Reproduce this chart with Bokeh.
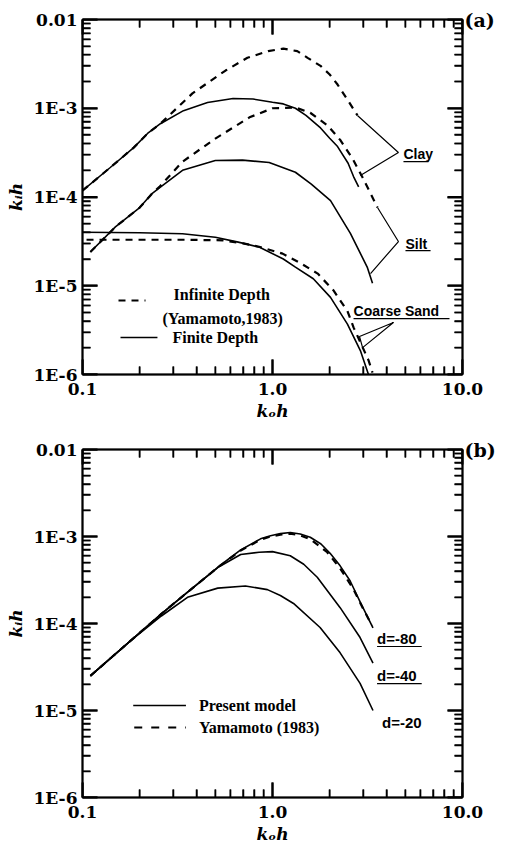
from bokeh.plotting import figure
from bokeh.models import LogAxis, FixedTicker, CustomJSTickFormatter, Label, Range1d
from bokeh.layouts import column
from bokeh.embed import file_html
from bokeh.resources import INLINE

# ---------------- ticks / labels ----------------
x_ticks = [0.1, 1.0, 10.0]
x_tick_labels = ["0.1", "1.0", "10.0"]
y_ticks = [1e-6, 1e-5, 1e-4, 1e-3, 1e-2]
y_tick_labels = ["1E-6", "1E-5", "1E-4", "1E-3", "0.01"]
x_minor = [m * 10.0 ** e for e in (-1, 0) for m in range(2, 10)]
y_minor = [m * 10.0 ** e for e in (-6, -5, -4, -3) for m in range(2, 10)]
x_label = "kₒh"
y_label = "kᵢh"

# ---------------- panel (a) data ----------------
clay_fin_k = [0.1, 0.14, 0.186, 0.22, 0.257, 0.34, 0.455, 0.62, 0.79, 1.0, 1.14, 1.32, 1.5, 1.79, 2.0, 2.2, 2.5, 2.67, 2.84]
clay_fin_v = [1.18e-4, 2.15e-4, 3.6e-4, 5.2e-4, 6.7e-4, 9.4e-4, 1.16e-3, 1.29e-3, 1.27e-3, 1.17e-3, 1.12e-3, 1.0e-3, 8.3e-4, 6.0e-4, 4.6e-4, 3.7e-4, 2.4e-4, 1.7e-4, 1.3e-4]

clay_inf_k = [0.1, 0.14, 0.186, 0.22, 0.257, 0.379, 0.566, 0.738, 0.95, 1.14, 1.35, 1.53, 1.79, 2.0, 2.2, 2.51, 2.8]
clay_inf_v = [1.18e-4, 2.15e-4, 3.6e-4, 5.2e-4, 6.7e-4, 1.47e-3, 2.66e-3, 3.7e-3, 4.4e-3, 4.7e-3, 4.4e-3, 3.7e-3, 3.0e-3, 2.4e-3, 1.85e-3, 1.2e-3, 8.3e-4]

silt_fin_k = [0.11, 0.149, 0.2, 0.233, 0.254, 0.336, 0.5, 0.695, 0.96, 1.32, 1.6, 2.02, 2.57, 3.16, 3.36]
silt_fin_v = [2.4e-5, 4.6e-5, 7.6e-5, 1.1e-4, 1.27e-4, 2.0e-4, 2.58e-4, 2.6e-4, 2.45e-4, 1.9e-4, 1.4e-4, 9.1e-5, 3.9e-5, 1.6e-5, 1.07e-5]

silt_inf_k = [0.11, 0.149, 0.2, 0.233, 0.254, 0.336, 0.5, 0.757, 1.0, 1.32, 1.58, 1.95, 2.28, 2.64, 2.98, 3.28, 3.57]
silt_inf_v = [2.4e-5, 4.6e-5, 7.6e-5, 1.1e-4, 1.3e-4, 2.5e-4, 4.55e-4, 7.9e-4, 1.0e-3, 1.02e-3, 8.9e-4, 6.4e-4, 4.35e-4, 2.7e-4, 1.66e-4, 1.1e-4, 7.6e-5]

sand_fin_k = [0.1, 0.2, 0.336, 0.5, 0.66, 0.855, 1.14, 1.32, 1.64, 2.02, 2.48, 2.9, 3.2]
sand_fin_v = [4.0e-5, 3.95e-5, 3.85e-5, 3.52e-5, 3.1e-5, 2.72e-5, 2.0e-5, 1.62e-5, 1.2e-5, 7.4e-6, 3.7e-6, 1.86e-6, 1.0e-6]

sand_inf_k = [0.105, 0.2, 0.336, 0.55, 0.7, 0.85, 1.13, 1.4, 1.73, 2.09, 2.48, 2.67, 3.2, 3.36]
sand_inf_v = [3.3e-5, 3.3e-5, 3.3e-5, 3.25e-5, 3.0e-5, 2.75e-5, 2.3e-5, 1.8e-5, 1.37e-5, 8.9e-6, 5.2e-6, 3.4e-6, 1.45e-6, 1.05e-6]

# ---------------- panel (b) data ----------------
d80_k = [0.11, 0.18, 0.26, 0.36, 0.515, 0.68, 0.865, 0.977, 1.1, 1.24, 1.4, 1.58, 1.8, 2.01, 2.27, 2.56, 2.9, 3.38]
d80_v = [2.5e-5, 6.4e-5, 1.29e-4, 2.32e-4, 4.43e-4, 7.0e-4, 9.4e-4, 1.02e-3, 1.08e-3, 1.11e-3, 1.07e-3, 9.8e-4, 8.2e-4, 6.4e-4, 4.6e-4, 3.1e-4, 1.75e-4, 8.9e-5]

d40_k = [0.11, 0.18, 0.26, 0.36, 0.515, 0.68, 0.85, 1.0, 1.24, 1.46, 1.72, 2.27, 2.89, 3.38]
d40_v = [2.5e-5, 6.4e-5, 1.29e-4, 2.32e-4, 4.4e-4, 6.2e-4, 6.6e-4, 6.7e-4, 6.0e-4, 4.8e-4, 3.4e-4, 1.52e-4, 6.9e-5, 3.5e-5]

d20_k = [0.11, 0.18, 0.26, 0.357, 0.515, 0.72, 0.94, 1.1, 1.29, 1.78, 2.27, 2.89, 3.38]
d20_v = [2.5e-5, 6.4e-5, 1.22e-4, 2.0e-4, 2.55e-4, 2.7e-4, 2.45e-4, 2.1e-4, 1.7e-4, 9.0e-5, 4.6e-5, 2.05e-5, 1.0e-5]

yama_k = [0.11, 0.18, 0.26, 0.36, 0.515, 0.68, 0.865, 0.976, 1.1, 1.24, 1.4, 1.58, 1.94, 2.27, 2.66, 2.99, 3.34]
yama_v = [2.5e-5, 6.4e-5, 1.29e-4, 2.32e-4, 4.4e-4, 6.9e-4, 9.2e-4, 1.0e-3, 1.05e-3, 1.08e-3, 1.03e-3, 9.3e-4, 6.6e-4, 4.3e-4, 2.5e-4, 1.5e-4, 9.5e-5]

# ---------------- texts ----------------
tag_a = "(a)"
tag_b = "(b)"
clay_text, silt_text, sand_text = "Clay", "Silt", "Coarse Sand"
leg_a = ["Infinite Depth", "(Yamamoto,1983)", "Finite Depth"]
leg_b = ["Present model", "Yamamoto (1983)"]
d_texts = ["d=-80", "d=-40", "d=-20"]

LABEL_JS = """
const lt = Math.log10(tick);
for (let i = 0; i < tv.length; i++) {
  if (Math.abs(lt - Math.log10(tv[i])) < 1e-6) { return tl[i]; }
}
return "";
"""
TAG_JS = "return (Math.abs(Math.log10(tick) - Math.log10(top)) < 1e-6) ? tag : '';"

SOLID_W = 1.6
DASH_W = 2.2
DASH = "7 6"
MAJOR_LEN = 15
MINOR_LEN = 8


def style_axis(ax, ticks, minor, labels=None):
    ax.ticker = FixedTicker(ticks=ticks, minor_ticks=minor)
    if labels is not None:
        ax.formatter = CustomJSTickFormatter(args=dict(tv=ticks, tl=labels), code=LABEL_JS)
        ax.major_label_text_font = "DejaVu Serif"
        ax.major_label_text_font_style = "bold"
        ax.major_label_text_font_size = "17px"
        ax.major_label_text_color = "black"
    else:
        ax.formatter = CustomJSTickFormatter(code="return '';")
        ax.major_label_text_font_size = "0px"
        ax.major_label_standoff = 0
    ax.major_tick_in = MAJOR_LEN
    ax.major_tick_out = 0
    ax.minor_tick_in = MINOR_LEN
    ax.minor_tick_out = 0
    ax.major_tick_line_color = "black"
    ax.minor_tick_line_color = "black"
    ax.major_tick_line_width = 2
    ax.minor_tick_line_width = 1.5
    ax.axis_line_width = 2
    ax.axis_line_color = "black"
    ax.axis_label_text_font = "DejaVu Serif"
    ax.axis_label_text_font_style = "bold italic"
    ax.axis_label_text_font_size = "17px"
    ax.axis_label_text_color = "black"


def add_inward_ticks(p, frame_w, frame_h):
    # inward tick marks on all four sides: one short line per tick value, through the plot scales
    px_dec_x = frame_w / 2.0
    px_dec_y = frame_h / 4.0
    for length, yt, xt, lw in ((MAJOR_LEN, y_ticks, x_ticks, 2.0), (MINOR_LEN, y_minor, x_minor, 1.5)):
        fx = 10 ** (length / px_dec_x)
        fy = 10 ** (length / px_dec_y)
        for t in yt:
            p.line([0.1, 0.1 * fx], [t, t], line_color="black", line_width=lw)
            p.line([10.0 / fx, 10.0], [t, t], line_color="black", line_width=lw)
        for t in xt:
            p.line([t, t], [1e-6, 1e-6 * fy], line_color="black", line_width=lw)
            p.line([t, t], [1e-2 / fy, 1e-2], line_color="black", line_width=lw)


def make_panel(height, bl, br, bt, bb, tag):
    p = figure(width=505, height=height, x_axis_type="log", y_axis_type="log",
               x_range=Range1d(0.1, 10.0), y_range=Range1d(1e-6, 1e-2),
               output_backend="svg", toolbar_location=None,
               min_border_left=bl, min_border_right=br,
               min_border_top=bt, min_border_bottom=bb)
    p.grid.visible = False
    p.outline_line_color = "black"
    p.outline_line_width = 1.5
    p.background_fill_color = "white"
    p.border_fill_color = "white"
    xa = p.xaxis[0]
    ya = p.yaxis[0]
    style_axis(xa, x_ticks, x_minor, x_tick_labels)
    style_axis(ya, y_ticks, y_minor, y_tick_labels)
    xa.axis_label = x_label
    ya.axis_label = y_label
    xa.major_label_standoff = 8
    xa.axis_label_standoff = 3
    ya.major_label_standoff = 5
    ya.axis_label_standoff = 5
    top = LogAxis()
    right = LogAxis()
    style_axis(top, x_ticks, x_minor)
    style_axis(right, y_ticks, y_minor)
    right.formatter = CustomJSTickFormatter(args=dict(tag=tag, top=1e-2), code=TAG_JS)
    right.major_label_text_font = "DejaVu Serif"
    right.major_label_text_font_style = "bold"
    right.major_label_text_font_size = "19px"
    right.major_label_text_color = "black"
    right.major_label_standoff = 2
    p.add_layout(top, "above")
    p.add_layout(right, "right")
    frame_w = 505 - bl - br
    frame_h = height - bt - bb
    add_inward_ticks(p, frame_w, frame_h)
    return p


def add_text(p, x, y, text, font, size, style="bold"):
    p.add_layout(Label(x=x, y=y, text=text, text_font=font, text_font_size=size,
                       text_font_style=style, text_color="black",
                       text_baseline="middle", text_align="left"))


# ================= panel (a) =================
pa = make_panel(438, 82, 43, 19, 64, tag_a)
pa.line(clay_inf_k, clay_inf_v, line_color="black", line_width=DASH_W, line_dash=DASH)
pa.line(silt_inf_k, silt_inf_v, line_color="black", line_width=DASH_W, line_dash=DASH)
pa.line(sand_inf_k, sand_inf_v, line_color="black", line_width=DASH_W, line_dash=DASH)
pa.line(clay_fin_k, clay_fin_v, line_color="black", line_width=SOLID_W)
pa.line(silt_fin_k, silt_fin_v, line_color="black", line_width=SOLID_W)
pa.line(sand_fin_k, sand_fin_v, line_color="black", line_width=SOLID_W)

# annotations (a): positions in data coordinates
clay_pos = (4.89, 3.09e-4)
clay_ul = ([4.89, 6.62], [2.51e-4, 2.51e-4])
clay_arrow = ([2.80, 4.60, 2.90], [8.29e-4, 3.17e-4, 1.75e-4])
silt_pos = (5.01, 2.99e-5)
silt_ul = ([5.01, 6.79], [2.49e-5, 2.49e-5])
silt_arrow = ([3.57, 4.60, 3.28], [7.62e-5, 3.15e-5, 1.37e-5])
sand_pos = (2.67, 5.13e-6)
sand_ul = ([2.67, 8.54], [4.27e-6, 4.27e-6])
sand_arrow = ([4.33, 2.87, 2.98, 4.33], [3.85e-6, 2.68e-6, 2.01e-6, 3.85e-6])

for (ux, uy) in (clay_ul, silt_ul, sand_ul, clay_arrow, silt_arrow, sand_arrow):
    pa.line(ux, uy, line_color="black", line_width=1.2)
add_text(pa, clay_pos[0], clay_pos[1], clay_text, "Liberation Sans", "14px")
add_text(pa, silt_pos[0], silt_pos[1], silt_text, "Liberation Sans", "14px")
add_text(pa, sand_pos[0], sand_pos[1], sand_text, "Liberation Sans", "14px")

pa.line([0.1547, 0.2146], [6.82e-6, 6.82e-6], line_color="black", line_width=DASH_W, line_dash=DASH)
pa.line([0.1585, 0.248], [2.61e-6, 2.61e-6], line_color="black", line_width=SOLID_W)
add_text(pa, 0.3013, 7.96e-6, leg_a[0], "Liberation Serif", "16px")
add_text(pa, 0.2637, 4.27e-6, leg_a[1], "Liberation Serif", "16px")
add_text(pa, 0.2976, 2.61e-6, leg_a[2], "Liberation Serif", "16px")

# ================= panel (b) =================
pb = make_panel(412, 81, 42, 11, 53, tag_b)
pb.line(yama_k, yama_v, line_color="black", line_width=DASH_W, line_dash=DASH)
pb.line(d80_k, d80_v, line_color="black", line_width=SOLID_W)
pb.line(d40_k, d40_v, line_color="black", line_width=SOLID_W)
pb.line(d20_k, d20_v, line_color="black", line_width=SOLID_W)

add_text(pb, 3.55, 6.73e-5, d_texts[0], "Liberation Sans", "15px")
add_text(pb, 3.55, 2.52e-5, d_texts[1], "Liberation Sans", "15px")
add_text(pb, 3.77, 7.28e-6, d_texts[2], "Liberation Sans", "15px")
pb.line([3.55, 6.10], [5.44e-5, 5.44e-5], line_color="black", line_width=1.2)
pb.line([3.55, 6.10], [2.04e-5, 2.04e-5], line_color="black", line_width=1.2)

pb.line([0.1849, 0.3503], [1.14e-5, 1.14e-5], line_color="black", line_width=SOLID_W)
pb.line([0.1872, 0.3503], [6.38e-6, 6.38e-6], line_color="black", line_width=DASH_W, line_dash="8 9")
add_text(pb, 0.41, 1.14e-5, leg_b[0], "Liberation Serif", "16px")
add_text(pb, 0.41, 6.38e-6, leg_b[1], "Liberation Serif", "16px")

layout = column(pa, pb)
open("out.html", "w").write(file_html(layout, INLINE))
